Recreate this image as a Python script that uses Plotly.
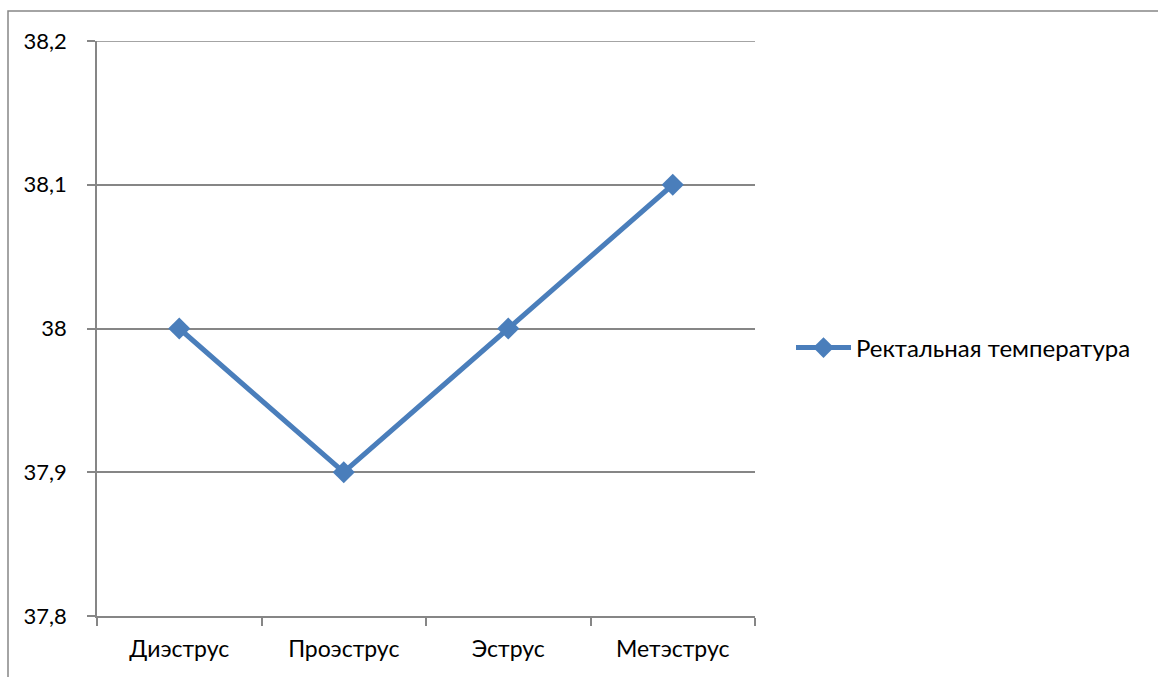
import plotly.graph_objects as go

# Estrous cycle phases and rectal temperature (°C)
phases = ["Диэструс", "Проэструс", "Эструс", "Метэструс"]
temperature = [38.0, 37.9, 38.0, 38.1]
series_name = "Ректальная температура"

y_ticks = [37.8, 37.9, 38.0, 38.1, 38.2]
y_tick_labels = ["37,8", "37,9", "38", "38,1", "38,2"]

W, H = 1158, 677
L, R, T, B = 97, 403, 41, 61
pw, ph = W - L - R, H - T - B

line_color = "#4A7EBB"
grid_color = "#868686"
font_family = "Lato, 'Open Sans', sans-serif"

fig = go.Figure()
fig.add_trace(go.Scatter(
    x=phases, y=temperature, name=series_name,
    mode="lines+markers",
    line=dict(color=line_color, width=5),
    marker=dict(symbol="diamond", size=17, color=line_color),
    showlegend=True,
))

# outer chart frame (runs off the right and bottom edges)
fig.add_shape(
    type="rect", xref="paper", yref="paper",
    x0=(8 - L) / pw, x1=(W + 10 - L) / pw,
    y0=(H - B - (H + 10)) / ph, y1=(H - B - 11) / ph,
    line=dict(color=grid_color, width=1.5), fillcolor="rgba(0,0,0,0)",
    layer="below",
)

# top gridline at the upper end of the value range
fig.add_shape(
    type="line", xref="paper", yref="y",
    x0=0, x1=1, y0=y_ticks[-1], y1=y_ticks[-1],
    line=dict(color=grid_color, width=1.5), layer="below",
)

fig.update_layout(
    width=W, height=H,
    margin=dict(l=L, r=R, t=T, b=B, pad=0),
    paper_bgcolor="white", plot_bgcolor="white",
    font=dict(family=font_family, size=23, color="black"),
    xaxis=dict(
        range=[-0.5, 3.5], tickson="boundaries",
        ticks="outside", ticklen=8, tickcolor=grid_color, tickwidth=1.5,
        showline=True, linecolor=grid_color, linewidth=1.5,
        showgrid=False, zeroline=False, ticklabelstandoff=12,
        tickfont=dict(size=23), fixedrange=True,
    ),
    yaxis=dict(
        range=[37.8, 38.2], tickvals=y_ticks, ticktext=y_tick_labels,
        ticks="outside", ticklen=8, tickcolor=grid_color, tickwidth=1.5,
        showline=True, linecolor=grid_color, linewidth=1.5,
        showgrid=True, gridcolor=grid_color, gridwidth=1.5,
        zeroline=False, ticklabelstandoff=16,
        tickfont=dict(size=22), fixedrange=True,
    ),
    legend=dict(
        x=(791 - L) / pw, y=(H - B - 348) / ph,
        xanchor="left", yanchor="middle",
        bgcolor="rgba(0,0,0,0)", font=dict(size=24),
        itemwidth=55,
    ),
)

fig.write_html("out.html")
